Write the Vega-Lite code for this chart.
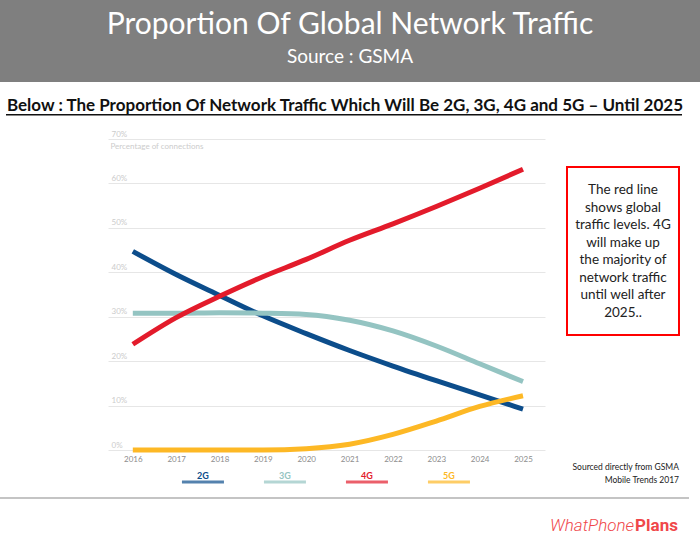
{
  "$schema": "https://vega.github.io/schema/vega-lite/v6.json",
  "background": "white",
  "padding": 0,
  "spacing": 0,
  "config": {"font": "Lato", "view": {"stroke": null}, "concat": {"spacing": 0}},
  "datasets": {
    "traffic": [
      {"year": "2016", "tech": "2G", "value": 44.7}, {"year": "2017", "tech": "2G", "value": 39.5},
      {"year": "2018", "tech": "2G", "value": 34.8}, {"year": "2019", "tech": "2G", "value": 30.2},
      {"year": "2020", "tech": "2G", "value": 26.2}, {"year": "2021", "tech": "2G", "value": 22.4},
      {"year": "2022", "tech": "2G", "value": 18.9}, {"year": "2023", "tech": "2G", "value": 15.6},
      {"year": "2024", "tech": "2G", "value": 12.4}, {"year": "2025", "tech": "2G", "value": 9.2},
      {"year": "2016", "tech": "3G", "value": 30.8}, {"year": "2017", "tech": "3G", "value": 30.8},
      {"year": "2018", "tech": "3G", "value": 30.9}, {"year": "2019", "tech": "3G", "value": 30.8},
      {"year": "2020", "tech": "3G", "value": 30.5}, {"year": "2021", "tech": "3G", "value": 29.2},
      {"year": "2022", "tech": "3G", "value": 26.8}, {"year": "2023", "tech": "3G", "value": 23.4},
      {"year": "2024", "tech": "3G", "value": 19.4}, {"year": "2025", "tech": "3G", "value": 15.4},
      {"year": "2016", "tech": "4G", "value": 23.8}, {"year": "2017", "tech": "4G", "value": 29.8},
      {"year": "2018", "tech": "4G", "value": 34.6}, {"year": "2019", "tech": "4G", "value": 39.0},
      {"year": "2020", "tech": "4G", "value": 42.9}, {"year": "2021", "tech": "4G", "value": 47.2},
      {"year": "2022", "tech": "4G", "value": 50.9}, {"year": "2023", "tech": "4G", "value": 54.8},
      {"year": "2024", "tech": "4G", "value": 58.9}, {"year": "2025", "tech": "4G", "value": 63.2},
      {"year": "2016", "tech": "5G", "value": 0.0}, {"year": "2017", "tech": "5G", "value": 0.0},
      {"year": "2018", "tech": "5G", "value": 0.0}, {"year": "2019", "tech": "5G", "value": 0.0},
      {"year": "2020", "tech": "5G", "value": 0.3}, {"year": "2021", "tech": "5G", "value": 1.3},
      {"year": "2022", "tech": "5G", "value": 3.5}, {"year": "2023", "tech": "5G", "value": 6.5},
      {"year": "2024", "tech": "5G", "value": 9.8}, {"year": "2025", "tech": "5G", "value": 12.2}
    ]
  },
  "vconcat": [
    {
      "width": 700,
      "height": 82,
      "view": {"fill": "#7f7f7f", "stroke": null},
      "data": {"values": [
        {"part": "title", "label": "Proportion Of Global Network Traffic"},
        {"part": "source", "label": "Source : GSMA"}
      ]},
      "encoding": {
        "y": {"field": "part", "type": "nominal", "scale": {"type": "point", "domain": ["title", "source"], "padding": 0.914, "align": 0.6415}, "axis": null},
        "text": {"field": "label"}
      },
      "layer": [
        {"transform": [{"filter": "datum.part == 'title'"}], "mark": {"type": "text", "color": "white", "baseline": "alphabetic", "fontSize": 30}},
        {"transform": [{"filter": "datum.part == 'source'"}], "mark": {"type": "text", "color": "white", "baseline": "alphabetic", "fontSize": 19}}
      ]
    },
    {
      "hconcat": [
        {"width": 6, "height": 29, "data": {"values": []}, "mark": "rect", "encoding": {}},
        {
          "width": 676,
          "height": 29,
          "data": {"values": [{"label": "Below : The Proportion Of Network Traffic Which Will Be 2G, 3G, 4G and 5G – Until 2025"}]},
          "mark": {"type": "text", "fontWeight": "bold", "fontSize": 17, "baseline": "alphabetic", "color": "#111111", "y": "height"},
          "encoding": {"text": {"field": "label"}}
        }
      ]
    },
    {
      "hconcat": [
        {"width": 6, "height": 1.5, "data": {"values": []}, "mark": "rect", "encoding": {}},
        {"width": 676, "height": 1.5, "view": {"fill": "#111111", "stroke": null}, "data": {"values": []}, "mark": "rect", "encoding": {}}
      ]
    },
    {"width": 10, "height": 14, "data": {"values": []}, "mark": "rect", "encoding": {}},
    {
      "hconcat": [
        {"width": 108, "height": 311, "data": {"values": []}, "mark": "rect", "encoding": {}},
        {
          "vconcat": [
            {
              "width": 437,
              "height": 311,
              "data": {"name": "traffic"},
              "mark": {"type": "line", "strokeWidth": 5, "interpolate": "monotone", "strokeCap": "butt"},
              "encoding": {
                "x": {"field": "year", "type": "ordinal", "scale": {"type": "point", "padding": 0.54, "align": 0.53},
                  "axis": {"labelAngle": 0, "labelColor": "#8c8c8c", "labelFontSize": 8, "labelPadding": 5, "ticks": false, "domain": false, "title": null}},
                "y": {"field": "value", "type": "quantitative", "scale": {"domain": [0, 70], "nice": false},
                  "axis": {"values": [0, 10, 20, 30, 40, 50, 60, 70], "labelExpr": "datum.value + '%'", "grid": true, "gridColor": "#e6e6e6",
                    "domain": false, "ticks": false, "tickSize": 0, "labelAlign": "left", "labelBaseline": "bottom", "labelPadding": -3,
                    "labelOffset": -1, "labelColor": "#cccccc", "labelFontSize": 8,
                    "title": "Percentage of connections", "titleAngle": 0, "titleAlign": "left", "titleBaseline": "middle",
                    "titleX": 2, "titleY": 7, "titleColor": "#cccccc", "titleFontSize": 8, "titleFontWeight": "normal"}},
                "color": {"field": "tech", "type": "nominal", "scale": {"domain": ["2G", "3G", "4G", "5G"], "range": ["#0c4d8b", "#94c4c2", "#e31b2b", "#fdb825"]}, "legend": null}
              }
            },
            {
              "width": 410,
              "height": 34,
              "data": {"values": [{"tech": "2G"}, {"tech": "3G"}, {"tech": "4G"}, {"tech": "5G"}]},
              "encoding": {
                "x": {"field": "tech", "type": "nominal", "scale": {"type": "point", "domain": ["2G", "3G", "4G", "5G"], "padding": 1, "align": 0.579}, "axis": null},
                "color": {"field": "tech", "type": "nominal", "scale": {"domain": ["2G", "3G", "4G", "5G"], "range": ["#0c4d8b", "#94c4c2", "#e31b2b", "#fdb825"]}, "legend": null}
              },
              "layer": [
                {"mark": {"type": "tick", "orient": "horizontal", "thickness": 3, "size": 42, "yOffset": 2}},
                {"mark": {"type": "text", "fontSize": 9, "fontWeight": "bold", "dy": -4, "baseline": "middle"}, "encoding": {"text": {"field": "tech"}}}
              ]
            }
          ]
        },
        {"width": 21, "height": 311, "data": {"values": []}, "mark": "rect", "encoding": {}},
        {
          "vconcat": [
            {"width": 112, "height": 27, "data": {"values": []}, "mark": "rect", "encoding": {}},
            {
              "width": 112,
              "height": 168,
              "view": {"stroke": "#ff0000", "strokeWidth": 2},
              "title": {"text": ["Sourced directly from GSMA", "Mobile Trends 2017"], "orient": "bottom", "anchor": "end", "align": "right",
                "offset": 128, "fontSize": 8.5, "fontWeight": "normal", "color": "#222222", "lineHeight": 13},
              "data": {"values": [{}]},
              "mark": {"type": "text", "fontSize": 13.5, "lineHeight": 17.5, "color": "#222222", "baseline": "middle", "dy": -61,
                "text": ["The red line", "shows global", "traffic levels. 4G", "will make up", "the majority of", "network traffic", "until well after", "2025.."]},
              "encoding": {}
            }
          ]
        }
      ]
    },
    {"width": 689, "height": 2, "view": {"fill": "#c4c4c4", "stroke": null}, "data": {"values": []}, "mark": "rect", "encoding": {}},
    {
      "hconcat": [
        {"width": 549, "height": 53, "data": {"values": []}, "mark": "rect", "encoding": {}},
        {
          "width": 82,
          "height": 53,
          "data": {"values": [{"label": "WhatPhone"}]},
          "mark": {"type": "text", "font": "Roboto", "fontStyle": "italic", "fontWeight": 300, "fontSize": 17, "align": "center", "baseline": "middle", "color": "#f0474a"},
          "encoding": {"text": {"field": "label"}}
        },
        {
          "width": 41,
          "height": 53,
          "data": {"values": [{"label": "Plans"}]},
          "mark": {"type": "text", "font": "Roboto", "fontWeight": "bold", "fontSize": 17, "align": "center", "baseline": "middle", "color": "#f0474a"},
          "encoding": {"text": {"field": "label"}}
        }
      ]
    }
  ]
}
